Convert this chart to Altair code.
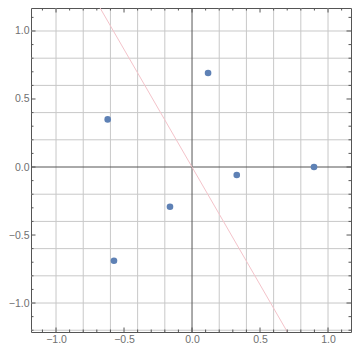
import altair as alt
import pandas as pd

# data
pt_x = [-0.62, 0.118, 0.329, 0.897, -0.162, -0.574]
pt_y = [0.35, 0.691, -0.059, 0.0, -0.292, -0.689]
line_x = [-0.80, 0.80]
line_y = [1.384, -1.384]
grid_vals = [-1.2, -1.0, -0.8, -0.6, -0.4, -0.2, 0.2, 0.4, 0.6, 0.8, 1.0, 1.2]
major_ticks = [-1.0, -0.5, 0.0, 0.5, 1.0]
minor_ticks = [-1.2, -1.1, -0.9, -0.8, -0.7, -0.6, -0.4, -0.3, -0.2, -0.1,
               0.1, 0.2, 0.3, 0.4, 0.6, 0.7, 0.8, 0.9, 1.1, 1.2]
x_domain = [-1.184, 1.169]
y_domain = [-1.213, 1.169]

W, H = 320, 324

pts = pd.DataFrame({"x": pt_x, "y": pt_y})
ln = pd.DataFrame({"x": line_x, "y": line_y})
grid = pd.DataFrame({"v": grid_vals})
major = pd.DataFrame({"v": major_ticks})
minor = pd.DataFrame({"v": minor_ticks})
zero = pd.DataFrame({"v": [0.0]})

xs = alt.Scale(domain=x_domain, nice=False, zero=False)
ys = alt.Scale(domain=y_domain, nice=False, zero=False)

grid_col = "#c8c8c8"
axis_col = "#555555"
lab_col = "#707070"

axis_common = dict(
    values=major_ticks, format=".1f", ticks=False, domain=False, grid=False,
    title=None, labelFont="Liberation Sans", labelFontSize=10.5, labelColor=lab_col,
)
xax = alt.Axis(labelPadding=2, **axis_common)
yax = alt.Axis(labelPadding=2, **axis_common)


def X(f):
    return alt.X(f, scale=xs, axis=xax)


def Y(f):
    return alt.Y(f, scale=ys, axis=yax)


vgrid = alt.Chart(grid).mark_rule(color=grid_col, strokeWidth=1, clip=True).encode(x=X("v:Q"))
hgrid = alt.Chart(grid).mark_rule(color=grid_col, strokeWidth=1, clip=True).encode(y=Y("v:Q"))
vzero = alt.Chart(zero).mark_rule(color=axis_col, strokeWidth=1).encode(x=X("v:Q"))
hzero = alt.Chart(zero).mark_rule(color=axis_col, strokeWidth=1).encode(y=Y("v:Q"))

line = alt.Chart(ln).mark_line(color="#f4c3ca", strokeWidth=1, clip=True).encode(
    x=X("x:Q"), y=Y("y:Q"))


def ticks(df, length):
    b = alt.Chart(df).mark_rule(color=axis_col, strokeWidth=1, clip=True).encode(
        x=X("v:Q"), y=alt.value(H), y2=alt.value(H - length))
    t = alt.Chart(df).mark_rule(color=axis_col, strokeWidth=1, clip=True).encode(
        x=X("v:Q"), y=alt.value(0), y2=alt.value(length))
    l = alt.Chart(df).mark_rule(color=axis_col, strokeWidth=1, clip=True).encode(
        y=Y("v:Q"), x=alt.value(0), x2=alt.value(length))
    r = alt.Chart(df).mark_rule(color=axis_col, strokeWidth=1, clip=True).encode(
        y=Y("v:Q"), x=alt.value(W), x2=alt.value(W - length))
    return [b, t, l, r]


points = alt.Chart(pts).mark_circle(size=44, color="#5e81b5", opacity=1).encode(
    x=X("x:Q"), y=Y("y:Q"))

chart = alt.layer(
    vgrid, hgrid, vzero, hzero, line, *ticks(minor, 2.5), *ticks(major, 4.5), points
).properties(
    width=W, height=H,
    autosize=alt.AutoSizeParams(type="none"),
    padding={"left": 23, "top": 0, "right": 1, "bottom": 13},
    background="white",
).configure_view(stroke=axis_col, strokeWidth=1)

chart.save("out.html", embed_options={"renderer": "svg", "actions": False})
